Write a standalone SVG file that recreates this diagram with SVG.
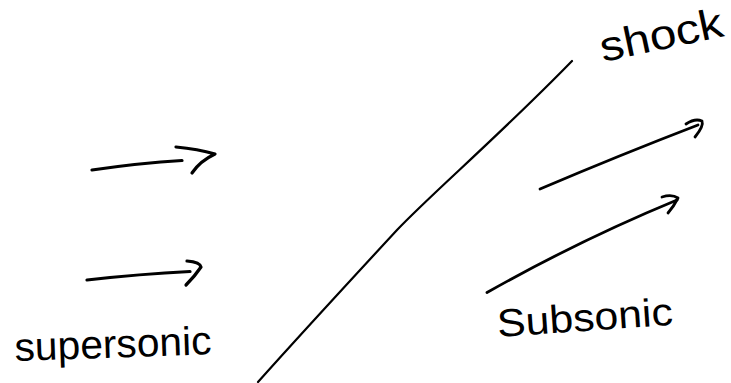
<svg xmlns="http://www.w3.org/2000/svg" width="731" height="383" viewBox="0 0 731 383">
<style>
.ink{fill:none;stroke:#000;stroke-linecap:round;stroke-linejoin:round}
.lbl{font-family:"Liberation Sans","DejaVu Sans",sans-serif;fill:#000}
</style>
<rect width="731" height="383" fill="#fff"/>
<g id="shock-line">
<path class="ink" stroke-width="2.2" d="M572,61 C500,135 430,195 397,230 C360,270 300,335 258,382"/>
</g>
<g id="connectors">
<g id="arrow-upstream-1">
<path class="ink" stroke-width="3.2" d="M92,170 Q140,163 182,160.5"/>
<path class="ink" stroke-width="3.2" d="M176,147 Q198,149 215,154 Q200,161 192,173"/>
</g>
<g id="arrow-upstream-2">
<path class="ink" stroke-width="3.2" d="M87,280 Q140,274 190,271.5"/>
<path class="ink" stroke-width="3.2" d="M187,261 Q200,262 201,267 Q195,276 186,285"/>
</g>
<g id="arrow-downstream-1">
<path class="ink" stroke-width="2.8" d="M540,189 Q620,155 698,125"/>
<path class="ink" stroke-width="2.8" d="M686,124 Q695,118 702,121 Q704,126 695,137"/>
</g>
<g id="arrow-downstream-2">
<path class="ink" stroke-width="2.8" d="M487,292.5 Q580,240 677,200"/>
<path class="ink" stroke-width="2.8" d="M662,197 Q672,194 678,198 Q674,206 668,213"/>
</g>
</g>
<g id="label-shock">
<text class="lbl" x="603" y="62" font-size="42" textLength="125" lengthAdjust="spacingAndGlyphs" transform="rotate(-12 603 62)">shock</text>
</g>
<g id="label-supersonic">
<text class="lbl" x="15" y="361" font-size="40" textLength="197" lengthAdjust="spacingAndGlyphs" transform="rotate(-2 15 361)">supersonic</text>
</g>
<g id="label-subsonic">
<text class="lbl" x="498" y="337" font-size="39" textLength="176" lengthAdjust="spacingAndGlyphs" transform="rotate(-4 498 337)">Subsonic</text>
</g>
</svg>
